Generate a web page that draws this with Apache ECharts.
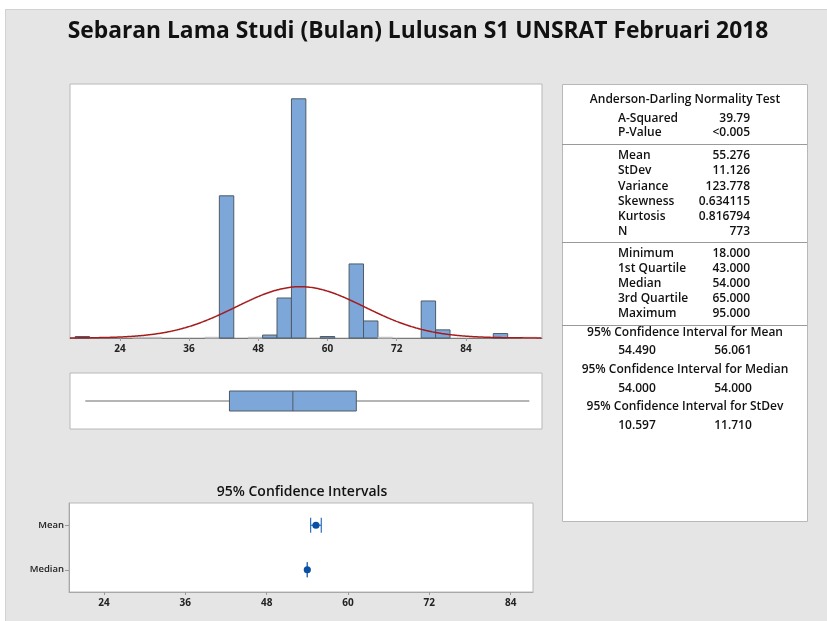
<!doctype html>
<html>
<head>
<meta charset="utf-8">
<title>Sebaran Lama Studi</title>
<style>
  html, body { margin: 0; padding: 0; background: #fff; }
  #panel { position: absolute; left: 5px; top: 9px; width: 830px; height: 620px; background: #e5e5e5; border-top: 1px solid #d2d2d2; border-left: 1px solid #d2d2d2; }
  #main { position: absolute; left: 0; top: 0; width: 827px; height: 621px; }
</style>
</head>
<body>
<div id="panel"></div>
<div id="main"></div>
<script src="https://cdn.jsdelivr.net/npm/echarts@6/dist/echarts.min.js"></script>
<script>
// histogram bins (midpoint, count), bin width 2.5
var binMids = [17.5, 27.5, 30, 40, 42.5, 47.5, 50, 52.5, 55, 60, 65, 67.5, 70, 77.5, 80, 90, 95];
var binCounts = [2, 1, 1, 1, 192, 1, 4, 54, 323, 2, 100, 23, 1, 50, 11, 6, 1];
var binWidth = 2.5;
var xTicks = [24, 36, 48, 60, 72, 84];

// summary statistics
var statMean = 55.276, statStDev = 11.126, statN = 773;
var fiveNum = [18, 43, 54, 65, 95]; // min, Q1, median, Q3, max

// confidence intervals plot
var ciCats = ['Mean', 'Median'];
var ciEst = [55.276, 54.0];
var ciLow = [54.490, 54.000];
var ciHigh = [56.061, 54.000];

// text table
var adRows = [['A-Squared', '39.79'], ['P-Value', '<0.005']];
var momentRows = [['Mean', '55.276'], ['StDev', '11.126'], ['Variance', '123.778'],
  ['Skewness', '0.634115'], ['Kurtosis', '0.816794'], ['N', '773']];
var quantRows = [['Minimum', '18.000'], ['1st Quartile', '43.000'], ['Median', '54.000'],
  ['3rd Quartile', '65.000'], ['Maximum', '95.000']];
var ciRows = [['95% Confidence Interval for Mean', '54.490', '56.061'],
  ['95% Confidence Interval for Median', '54.000', '54.000'],
  ['95% Confidence Interval for StDev', '10.597', '11.710']];

var FONT = "'Open Sans', 'Noto Sans', sans-serif";
var histMin = 15.35, histMax = 97.2;

// fitted normal curve scaled to counts
var curve = [];
for (var x = histMin; x <= histMax; x += 0.25) {
  var z = (x - statMean) / statStDev;
  curve.push([x, statN * binWidth * Math.exp(-0.5 * z * z) / (statStDev * Math.sqrt(2 * Math.PI))]);
}

var chart = echarts.init(document.getElementById('main'), null, { renderer: 'canvas' });

var graphics = [];
function txt(x, y, s, align, size, weight) {
  graphics.push({
    type: 'text', z: 10,
    style: {
      x: x, y: y, text: s, textAlign: align, textVerticalAlign: 'middle',
      font: (weight || 'normal') + ' ' + size + 'px ' + FONT, fill: '#111'
    }
  });
}
function hline(y) {
  graphics.push({ type: 'line', z: 10, shape: { x1: 562, y1: y, x2: 807, y2: y }, style: { stroke: '#9a9a9a', lineWidth: 1 } });
}

// title
txt(418, 32, 'Sebaran Lama Studi (Bulan) Lulusan S1 UNSRAT Februari 2018', 'center', 22.8, 'bold');
txt(302, 492, '95% Confidence Intervals', 'center', 14, '600');

// right text panel
var PS = 12;
graphics.push({ type: 'rect', z: 5, shape: { x: 562.5, y: 84.5, width: 245, height: 437 }, style: { fill: '#fff', stroke: '#b8b8b8', lineWidth: 1 } });
txt(685, 100, 'Anderson-Darling Normality Test', 'center', PS, '600');
adRows.forEach(function (r, i) {
  txt(618, 119 + i * 14, r[0], 'left', PS, '600');
  txt(750, 119 + i * 14, r[1], 'right', PS, '600');
});
hline(144.5);
momentRows.forEach(function (r, i) {
  txt(618, 156 + i * 15.05, r[0], 'left', PS, '600');
  txt(750, 156 + i * 15.05, r[1], 'right', PS, '600');
});
hline(242.5);
quantRows.forEach(function (r, i) {
  txt(618, 254 + i * 14.9, r[0], 'left', PS, '600');
  txt(750, 254 + i * 14.9, r[1], 'right', PS, '600');
});
hline(325.5);
ciRows.forEach(function (r, i) {
  txt(685, 333 + i * 37, r[0], 'center', PS, '600');
  txt(637, 351 + i * 37.5, r[1], 'center', PS, '600');
  txt(733, 351 + i * 37.5, r[2], 'center', PS, '600');
});

var gridStyle = { show: true, backgroundColor: '#fff', borderColor: '#b8b8b8', borderWidth: 1 };

chart.setOption({
  animation: false,
  textStyle: { fontFamily: FONT },
  graphic: graphics,
  grid: [
    Object.assign({ left: 70, top: 84, width: 472, height: 254 }, gridStyle),
    Object.assign({ left: 70, top: 373, width: 472, height: 56 }, gridStyle),
    Object.assign({ left: 69, top: 503, width: 464, height: 89 }, gridStyle)
  ],
  xAxis: [
    {
      type: 'value', gridIndex: 0, min: histMin, max: histMax,
      splitLine: { show: false },
      axisLine: { show: true, lineStyle: { color: '#7a7a7a', width: 1 } },
      axisTick: { show: true, length: 3, lineStyle: { color: '#9a9a9a' }, customValues: xTicks },
      axisLabel: { customValues: xTicks, fontSize: 10, fontWeight: 'bold', color: '#222', margin: 6 }
    },
    {
      type: 'value', gridIndex: 1, min: histMin, max: histMax, show: false,
      splitLine: { show: false }
    },
    {
      type: 'value', gridIndex: 2, min: 18.84, max: 87.3,
      splitLine: { show: false },
      axisLine: { show: true, lineStyle: { color: '#a8a8a8', width: 1 } },
      axisTick: { show: true, length: 3, lineStyle: { color: '#9a9a9a' }, customValues: xTicks },
      axisLabel: { customValues: xTicks, fontSize: 10, fontWeight: 'bold', color: '#222', margin: 6 }
    }
  ],
  yAxis: [
    { type: 'value', gridIndex: 0, min: 0, max: 343, show: false, splitLine: { show: false } },
    { type: 'value', gridIndex: 1, min: 0, max: 1, show: false, splitLine: { show: false } },
    {
      type: 'category', gridIndex: 2, data: ciCats, inverse: true,
      axisLine: { show: true, lineStyle: { color: '#a8a8a8' } },
      axisTick: { show: true, alignWithLabel: true, length: 4, lineStyle: { color: '#9a9a9a' } },
      axisLabel: { fontSize: 9.5, fontWeight: '600', color: '#222', margin: 5 }
    }
  ],
  series: [
    {
      type: 'custom', xAxisIndex: 0, yAxisIndex: 0,
      data: binMids.map(function (m, i) { return [m, binCounts[i]]; }),
      renderItem: function (params, api) {
        var m = api.value(0), c = api.value(1);
        var p0 = api.coord([m - binWidth / 2, c]);
        var p1 = api.coord([m + binWidth / 2, 0]);
        var h = p1[1] - p0[1];
        return {
          type: 'rect',
          shape: { x: p0[0], y: p0[1], width: p1[0] - p0[0], height: h },
          style: { fill: '#7da7d9', stroke: h < 1 ? '#c4c4c4' : '#4f5a66', lineWidth: 1 }
        };
      }
    },
    {
      type: 'line', xAxisIndex: 0, yAxisIndex: 0, data: curve, showSymbol: false, smooth: true,
      lineStyle: { color: '#a51c1c', width: 1.5 }, z: 3
    },
    {
      type: 'custom', xAxisIndex: 1, yAxisIndex: 1,
      data: [fiveNum],
      renderItem: function (params, api) {
        var y = api.coord([0, 0.5])[1];
        var pMin = api.coord([api.value(0), 0.5])[0];
        var pQ1 = api.coord([api.value(1), 0.5])[0];
        var pMed = api.coord([api.value(2), 0.5])[0];
        var pQ3 = api.coord([api.value(3), 0.5])[0];
        var pMax = api.coord([api.value(4), 0.5])[0];
        var hh = 10;
        var ls = { stroke: '#6a6a6a', lineWidth: 1 };
        return {
          type: 'group',
          children: [
            { type: 'line', shape: { x1: pMin, y1: y, x2: pQ1, y2: y }, style: ls },
            { type: 'line', shape: { x1: pQ3, y1: y, x2: pMax, y2: y }, style: ls },
            { type: 'rect', shape: { x: pQ1, y: y - hh, width: pQ3 - pQ1, height: 2 * hh }, style: { fill: '#7da7d9', stroke: '#4f5a66', lineWidth: 1 } },
            { type: 'line', shape: { x1: pMed, y1: y - hh, x2: pMed, y2: y + hh }, style: { stroke: '#4f5a66', lineWidth: 1 } }
          ]
        };
      }
    },
    {
      type: 'custom', xAxisIndex: 2, yAxisIndex: 2,
      data: ciCats.map(function (c, i) { return [ciEst[i], i, ciLow[i], ciHigh[i]]; }),
      renderItem: function (params, api) {
        var cat = api.value(1);
        var pe = api.coord([api.value(0), cat]);
        var pl = api.coord([api.value(2), cat]);
        var ph = api.coord([api.value(3), cat]);
        var cap = 7.5;
        var ls = { stroke: '#2f6fbd', lineWidth: 1.2 };
        return {
          type: 'group',
          children: [
            { type: 'line', shape: { x1: pl[0], y1: pl[1], x2: ph[0], y2: ph[1] }, style: ls },
            { type: 'line', shape: { x1: pl[0], y1: pl[1] - cap, x2: pl[0], y2: pl[1] + cap }, style: ls },
            { type: 'line', shape: { x1: ph[0], y1: ph[1] - cap, x2: ph[0], y2: ph[1] + cap }, style: ls },
            { type: 'circle', shape: { cx: pe[0], cy: pe[1], r: 3.6 }, style: { fill: '#0a4fa3' } }
          ]
        };
      }
    }
  ]
});

window.onresize = chart.resize;
</script>
</body>
</html>
